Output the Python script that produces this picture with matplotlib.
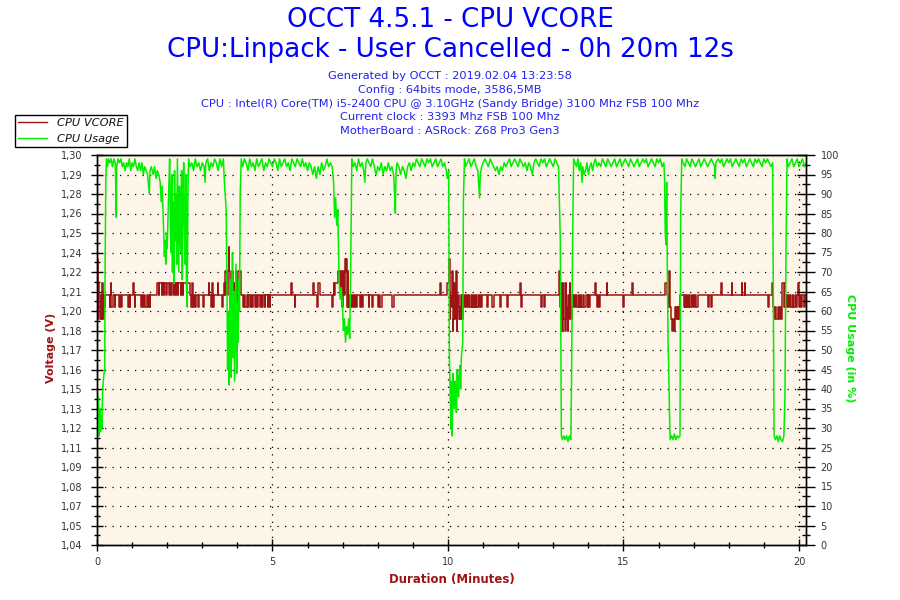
import matplotlib
matplotlib.use("Agg")
import matplotlib.pyplot as plt
from matplotlib.lines import Line2D
from matplotlib.ticker import MultipleLocator, FixedLocator

title_lines = ["OCCT 4.5.1 - CPU VCORE", "CPU:Linpack - User Cancelled - 0h 20m 12s"]
info_lines = [
    "Generated by OCCT : 2019.02.04 13:23:58",
    "Config : 64bits mode, 3586,5MB",
    "CPU : Intel(R) Core(TM) i5-2400 CPU @ 3.10GHz (Sandy Bridge) 3100 Mhz FSB 100 Mhz",
    "Current clock : 3393 Mhz FSB 100 Mhz",
    "MotherBoard : ASRock: Z68 Pro3 Gen3",
]

volt_ticklabels = ["1,04", "1,05", "1,07", "1,08", "1,09", "1,11", "1,12", "1,13", "1,15", "1,16", "1,17",
                   "1,18", "1,20", "1,21", "1,22", "1,24", "1,25", "1,26", "1,28", "1,29", "1,30"]
usage_ticks = list(range(0, 101, 5))

# CPU VCORE (V), step trace
vcore_min = [0.00, 0.02, 0.04, 0.06, 0.08, 0.10, 0.12, 0.14, 0.16, 0.18, 0.20, 0.22, 0.24,
             0.36, 0.38, 0.39, 0.41, 0.45, 0.50, 0.51, 0.62, 0.66, 0.67, 0.72, 0.88, 0.90, 0.93, 0.95,
             1.02, 1.04, 1.07, 1.09, 1.25, 1.28, 1.30, 1.33, 1.38, 1.42, 1.45, 1.47, 1.50, 1.52,
             1.70, 1.76, 1.78, 1.84, 1.86, 1.90, 1.92, 1.98, 2.00, 2.05, 2.07, 2.12, 2.14, 2.18, 2.20,
             2.24, 2.26, 2.30, 2.32, 2.38, 2.40, 2.44, 2.46,
             2.65, 2.68, 2.70, 2.73, 2.76, 2.78, 2.82, 2.88, 2.90, 3.03, 3.06, 3.18, 3.20, 3.26, 3.28,
             3.30, 3.32, 3.44, 3.46, 3.55, 3.58, 3.62, 3.64,
             3.66, 3.69, 3.72, 3.75, 3.77, 3.79, 3.81, 3.83, 3.85, 3.87, 3.89, 3.91, 3.93, 3.95, 3.97,
             3.99, 4.01, 4.09,
             4.16, 4.19, 4.22, 4.26, 4.29, 4.31, 4.36, 4.38, 4.42, 4.45, 4.50, 4.53, 4.56, 4.59, 4.63,
             4.66, 4.70, 4.74, 4.78, 4.80, 4.86, 4.88, 4.92, 4.94, 5.53, 5.56, 5.63, 5.65, 6.14, 6.17,
             6.28, 6.30, 6.34, 6.70, 6.72, 6.74, 6.76, 6.78,
             6.86, 6.92, 6.94, 6.98, 7.00, 7.04, 7.06, 7.08, 7.10, 7.12, 7.14, 7.16, 7.18, 7.20, 7.25,
             7.27, 7.30, 7.32, 7.36, 7.38, 7.41, 7.48, 7.52, 7.54, 7.58, 7.74, 7.76, 7.83, 7.85, 8.02,
             8.04, 8.07, 8.12, 8.40, 8.45, 9.76, 9.79, 9.96,
             10.03, 10.05, 10.07, 10.09, 10.11, 10.13, 10.15, 10.17, 10.19, 10.21, 10.23, 10.25, 10.27,
             10.29, 10.31, 10.33, 10.35, 10.37, 10.39, 10.41, 10.44,
             10.46, 10.49, 10.51, 10.55, 10.57, 10.61, 10.63, 10.67, 10.69, 10.73, 10.75, 10.79, 10.81,
             10.86, 10.88, 10.92, 10.94, 10.98, 11.10, 11.14, 11.26, 11.30, 11.48, 11.51, 11.67, 11.70,
             12.05, 12.07, 12.10, 12.66, 12.68, 12.74, 12.76,
             13.15, 13.17, 13.19, 13.21, 13.23, 13.25, 13.27, 13.29, 13.31, 13.33, 13.35, 13.37, 13.39,
             13.41, 13.43, 13.45, 13.47, 13.49, 13.51, 13.54,
             13.56, 13.60, 13.62, 13.66, 13.68, 13.72, 13.74, 13.78, 13.80, 13.84, 13.88, 13.92, 13.98,
             14.00, 14.03, 14.06, 14.19, 14.21, 14.25, 14.28, 14.30, 14.33, 14.52, 14.54, 15.00, 15.02,
             15.24, 15.26,
             16.17, 16.23, 16.27, 16.30, 16.32, 16.34, 16.38, 16.40, 16.44, 16.46, 16.48, 16.50, 16.52,
             16.54, 16.56, 16.58, 16.60, 16.62,
             16.71, 16.74, 16.76, 16.80, 16.82, 16.86, 16.88, 16.92, 16.95, 16.98, 17.02, 17.05, 17.08,
             17.12, 17.42, 17.45, 17.48, 17.52, 17.78, 17.80, 18.08, 18.10, 18.37, 18.39, 18.45, 18.47,
             19.13, 19.15,
             19.22, 19.27, 19.30, 19.32, 19.35, 19.40, 19.43, 19.47, 19.50, 19.53, 19.56, 19.59, 19.61,
             19.63, 19.66, 19.69, 19.72, 19.75, 19.78, 19.82, 19.84, 19.88, 19.92, 19.95, 19.98, 20.00,
             20.03, 20.06, 20.10, 20.13, 20.17, 20.20]
vcore_volt = [1.231, 1.191, 1.215, 1.199, 1.191, 1.207, 1.191, 1.215, 1.199, 1.191, 1.207, 1.199, 1.207,
              1.199, 1.207, 1.215, 1.199, 1.207, 1.199, 1.207, 1.199, 1.207, 1.199, 1.207, 1.199, 1.207, 1.199, 1.207,
              1.215, 1.207, 1.199, 1.207, 1.199, 1.207, 1.199, 1.207, 1.199, 1.207, 1.199, 1.207, 1.199, 1.207,
              1.215, 1.207, 1.215, 1.207, 1.215, 1.207, 1.215, 1.207, 1.215, 1.207, 1.215, 1.207, 1.215, 1.207, 1.215,
              1.207, 1.215, 1.207, 1.215, 1.207, 1.215, 1.207, 1.215,
              1.207, 1.199, 1.215, 1.199, 1.207, 1.199, 1.207, 1.199, 1.207, 1.199, 1.207, 1.215, 1.207, 1.199, 1.215,
              1.199, 1.207, 1.215, 1.207, 1.199, 1.207, 1.215, 1.207,
              1.223, 1.207, 1.223, 1.239, 1.223, 1.199, 1.215, 1.191, 1.223, 1.207, 1.191, 1.215, 1.199, 1.223, 1.191,
              1.207, 1.223, 1.207,
              1.199, 1.207, 1.199, 1.207, 1.199, 1.207, 1.199, 1.207, 1.199, 1.207, 1.199, 1.207, 1.199, 1.207, 1.199,
              1.207, 1.199, 1.207, 1.199, 1.207, 1.199, 1.207, 1.199, 1.207, 1.215, 1.207, 1.199, 1.207, 1.215, 1.207,
              1.199, 1.215, 1.207, 1.199, 1.207, 1.215, 1.207, 1.215,
              1.223, 1.207, 1.223, 1.199, 1.223, 1.207, 1.231, 1.223, 1.231, 1.199, 1.223, 1.199, 1.207, 1.199, 1.207,
              1.199, 1.207, 1.199, 1.207, 1.199, 1.207, 1.199, 1.207, 1.199, 1.207, 1.199, 1.207, 1.199, 1.207, 1.199,
              1.207, 1.199, 1.207, 1.199, 1.207, 1.215, 1.207, 1.215,
              1.231, 1.191, 1.207, 1.199, 1.223, 1.183, 1.191, 1.215, 1.191, 1.199, 1.223, 1.183, 1.199,
              1.207, 1.191, 1.199, 1.191, 1.207, 1.199, 1.191, 1.207,
              1.199, 1.207, 1.199, 1.207, 1.199, 1.207, 1.199, 1.207, 1.199, 1.207, 1.199, 1.207, 1.199,
              1.207, 1.199, 1.207, 1.199, 1.207, 1.199, 1.207, 1.199, 1.207, 1.199, 1.207, 1.199, 1.207,
              1.215, 1.199, 1.207, 1.199, 1.207, 1.199, 1.207,
              1.215, 1.223, 1.199, 1.191, 1.215, 1.183, 1.199, 1.215, 1.191, 1.183, 1.215, 1.191, 1.199,
              1.183, 1.207, 1.191, 1.215, 1.199, 1.191, 1.207,
              1.199, 1.207, 1.199, 1.207, 1.199, 1.207, 1.199, 1.207, 1.199, 1.207, 1.199, 1.207, 1.199,
              1.207, 1.199, 1.207, 1.215, 1.207, 1.199, 1.207, 1.199, 1.207, 1.215, 1.207, 1.199, 1.207,
              1.215, 1.207,
              1.215, 1.207, 1.199, 1.223, 1.199, 1.191, 1.183, 1.191, 1.183, 1.191, 1.199, 1.191, 1.199,
              1.191, 1.199, 1.191, 1.199, 1.207,
              1.199, 1.207, 1.199, 1.207, 1.199, 1.207, 1.199, 1.207, 1.199, 1.207, 1.199, 1.207, 1.199,
              1.207, 1.199, 1.207, 1.199, 1.207, 1.215, 1.207, 1.215, 1.207, 1.215, 1.207, 1.215, 1.207,
              1.199, 1.207,
              1.215, 1.199, 1.191, 1.199, 1.191, 1.199, 1.191, 1.199, 1.191, 1.215, 1.199, 1.215, 1.199,
              1.207, 1.199, 1.207, 1.199, 1.207, 1.199, 1.207, 1.199, 1.207, 1.199, 1.207, 1.215, 1.199,
              1.207, 1.199, 1.207, 1.199, 1.207, 1.207]

# CPU usage (%)
usage_min = [0.00, 0.02, 0.04, 0.06, 0.08, 0.10, 0.12, 0.14, 0.16, 0.18, 0.20, 0.22, 0.23, 0.25, 0.27, 0.30,
             0.33, 0.36, 0.40, 0.44, 0.48, 0.52, 0.54, 0.55, 0.56, 0.60, 0.64, 0.68, 0.72, 0.76, 0.80, 0.84,
             0.88, 0.92, 0.96, 1.00, 1.04, 1.08, 1.12, 1.16, 1.20, 1.24, 1.28, 1.32, 1.36, 1.40, 1.44, 1.47,
             1.49, 1.51, 1.55, 1.60, 1.64, 1.68, 1.72, 1.76, 1.80, 1.83, 1.85, 1.88, 1.90, 1.92, 1.94, 1.96,
             1.98, 2.00, 2.04, 2.07, 2.09, 2.11, 2.13, 2.15, 2.17, 2.19, 2.21, 2.23, 2.25, 2.27, 2.29, 2.31,
             2.33, 2.35, 2.37, 2.39, 2.41, 2.43, 2.45, 2.47, 2.49, 2.51, 2.53, 2.55, 2.57, 2.59, 2.61, 2.65,
             2.70, 2.75, 2.80, 2.85, 2.90, 2.95, 3.00, 3.05, 3.08, 3.10, 3.15, 3.20, 3.25, 3.30, 3.35, 3.40,
             3.45, 3.50, 3.55, 3.60, 3.63, 3.66, 3.68, 3.70, 3.72, 3.74, 3.76, 3.78, 3.80, 3.82, 3.84, 3.86,
             3.88, 3.90, 3.92, 3.94, 3.96, 3.98, 4.00, 4.02, 4.04, 4.06, 4.08, 4.11, 4.15, 4.20, 4.25, 4.30,
             4.35, 4.40, 4.45, 4.50, 4.55, 4.60, 4.65, 4.70, 4.75, 4.80, 4.85, 4.90, 4.95, 5.00, 5.05, 5.10,
             5.15, 5.20, 5.25, 5.30, 5.35, 5.40, 5.45, 5.50, 5.55, 5.60, 5.65, 5.70, 5.75, 5.80, 5.85, 5.90,
             5.95, 6.00, 6.05, 6.10, 6.15, 6.20, 6.25, 6.30, 6.35, 6.40, 6.45, 6.50, 6.55, 6.60, 6.65, 6.70,
             6.74, 6.77, 6.80, 6.83, 6.86, 6.90, 6.93, 6.96, 6.99, 7.02, 7.05, 7.08, 7.11, 7.14, 7.17, 7.20,
             7.23, 7.26, 7.30, 7.35, 7.40, 7.45, 7.50, 7.55, 7.60, 7.63, 7.66, 7.70, 7.75, 7.80, 7.85, 7.90,
             7.95, 8.00, 8.05, 8.10, 8.15, 8.20, 8.25, 8.30, 8.35, 8.40, 8.45, 8.48, 8.50, 8.52, 8.55, 8.60,
             8.65, 8.70, 8.75, 8.80, 8.85, 8.90, 8.95, 9.00, 9.05, 9.10, 9.15, 9.20, 9.25, 9.30, 9.35, 9.40,
             9.45, 9.50, 9.55, 9.60, 9.65, 9.70, 9.75, 9.80, 9.85, 9.90, 9.95, 9.98, 10.02, 10.04, 10.06,
             10.08, 10.10, 10.12, 10.14, 10.16, 10.18, 10.20, 10.22, 10.24, 10.26, 10.28, 10.30, 10.32,
             10.34, 10.36, 10.38, 10.40, 10.42, 10.44, 10.47, 10.50, 10.55, 10.60, 10.65, 10.70, 10.75,
             10.80, 10.85, 10.88, 10.90, 10.92, 10.96, 11.00, 11.05, 11.10, 11.15, 11.20, 11.25, 11.30,
             11.35, 11.40, 11.45, 11.50, 11.55, 11.60, 11.65, 11.70, 11.75, 11.80, 11.85, 11.90, 11.95,
             12.00, 12.05, 12.10, 12.15, 12.20, 12.25, 12.30, 12.35, 12.40, 12.45, 12.50, 12.55, 12.60,
             12.65, 12.70, 12.75, 12.80, 12.85, 12.90, 12.95, 13.00, 13.05, 13.10, 13.15, 13.17, 13.20,
             13.23, 13.26, 13.30, 13.34, 13.38, 13.42, 13.46, 13.50, 13.52, 13.55, 13.58, 13.62, 13.66,
             13.70, 13.74, 13.78, 13.82, 13.84, 13.88, 13.92, 13.96, 14.00, 14.04, 14.08, 14.12, 14.16,
             14.20, 14.25, 14.30, 14.35, 14.40, 14.45, 14.50, 14.55, 14.60, 14.65, 14.70, 14.75, 14.80,
             14.85, 14.90, 14.95, 15.00, 15.05, 15.10, 15.15, 15.20, 15.25, 15.30, 15.35, 15.40, 15.45,
             15.50, 15.55, 15.60, 15.65, 15.70, 15.75, 15.80, 15.85, 15.90, 15.95, 16.00, 16.05, 16.10,
             16.15, 16.17, 16.19, 16.21, 16.23, 16.25, 16.27, 16.29, 16.31, 16.33, 16.37, 16.41, 16.45,
             16.49, 16.53, 16.57, 16.61, 16.63, 16.66, 16.70, 16.75, 16.80, 16.85, 16.90, 16.95, 17.00,
             17.05, 17.10, 17.15, 17.20, 17.25, 17.30, 17.35, 17.40, 17.45, 17.50, 17.55, 17.60, 17.61,
             17.63, 17.70, 17.75, 17.80, 17.85, 17.90, 17.95, 18.00, 18.05, 18.10, 18.15, 18.20, 18.25,
             18.30, 18.35, 18.40, 18.45, 18.50, 18.55, 18.60, 18.65, 18.70, 18.75, 18.80, 18.85, 18.90,
             18.95, 19.00, 19.05, 19.10, 19.15, 19.20, 19.25, 19.27, 19.29, 19.33, 19.37, 19.41, 19.45,
             19.49, 19.53, 19.57, 19.60, 19.63, 19.66, 19.70, 19.75, 19.80, 19.85, 19.90, 19.95, 20.00,
             20.05, 20.10, 20.15, 20.19]
usage_pct = [41, 30, 38, 28, 35, 29, 33, 30, 40, 42, 44, 45, 70, 93, 99, 97,
             99, 98, 99, 97, 99, 98, 90, 84, 97, 99, 98, 99, 97, 98, 96, 98,
             97, 99, 96, 98, 97, 99, 97, 96, 98, 96, 98, 95, 97, 96, 95, 92,
             90, 96, 97, 95, 97, 94, 96, 95, 93, 88, 92, 86, 80, 74, 78, 72,
             80, 76, 90, 99, 85, 75, 95, 70, 88, 67, 96, 78, 90, 72, 99, 85,
             70, 92, 80, 75, 96, 68, 88, 98, 82, 72, 95, 66, 61, 90, 99, 97,
             98, 96, 99, 97, 98, 96, 98, 97, 93, 98, 99, 96, 98, 97, 99, 98,
             96, 99, 97, 99, 93, 89, 86, 70, 45, 60, 41, 52, 68, 43, 56, 75,
             48, 65, 42, 58, 72, 44, 62, 52, 68, 60, 90, 99, 97, 99, 98, 96,
             99, 97, 98, 96, 99, 97, 98, 99, 96, 98, 97, 99, 98, 97, 99, 98,
             96, 99, 97, 98, 99, 97, 98, 96, 99, 98, 97, 99, 98, 97, 99, 97,
             98, 96, 98, 97, 95, 97, 94, 97, 95, 98, 96, 97, 99, 97, 98, 97,
             93, 84, 89, 82, 86, 67, 63, 66, 62, 55, 58, 52, 56, 54, 58, 53,
             73, 99, 97, 98, 96, 99, 97, 98, 96, 93, 98, 99, 98, 97, 99, 97,
             95, 97, 96, 98, 95, 97, 96, 98, 96, 97, 95, 90, 85, 96, 98, 97,
             95, 97, 96, 94, 97, 98, 96, 98, 97, 99, 98, 97, 99, 98, 97, 99,
             98, 99, 97, 98, 99, 97, 98, 99, 97, 98, 96, 94, 96, 48, 40,
             30, 42, 28, 44, 38, 35, 42, 40, 34, 45, 42, 38, 44,
             46, 40, 48, 50, 52, 89, 99, 97, 98, 99, 97, 98, 99,
             97, 96, 92, 89, 95, 97, 98, 99, 98, 97, 99, 98, 97,
             96, 97, 95, 97, 96, 98, 97, 98, 99, 97, 98, 99, 98,
             97, 99, 98, 97, 98, 96, 98, 97, 95, 98, 99, 98, 97,
             99, 98, 99, 97, 98, 99, 98, 97, 99, 98, 97, 89, 78,
             28, 27, 28, 27, 28, 26.5, 28, 27, 42, 78, 99, 98, 97,
             99, 96, 98, 93, 97, 95, 96, 98, 95, 97, 98, 96, 98,
             99, 97, 98, 97, 99, 98, 97, 99, 98, 97, 98, 99, 97,
             98, 99, 97, 98, 99, 98, 97, 99, 98, 97, 98, 99, 97,
             98, 99, 98, 99, 97, 98, 99, 98, 97, 99, 98, 99, 97,
             98, 94, 80, 77, 93, 70, 52, 45, 34, 27, 28, 27, 28.5,
             27, 28, 27.5, 28, 85, 99, 98, 97, 99, 98, 97, 99, 98,
             97, 98, 99, 97, 98, 99, 98, 97, 98, 99, 98, 97, 94,
             98, 99, 98, 99, 97, 98, 99, 98, 99, 97, 98, 99, 98,
             97, 99, 98, 99, 97, 98, 99, 98, 97, 99, 98, 99, 98,
             97, 99, 98, 99, 98, 97, 98, 60, 28, 27, 28, 26.5, 28,
             27, 26.5, 28, 38, 75, 99, 97, 98, 99, 97, 98, 99, 97,
             98, 99, 97, 98]

red = "#9e1414"
green = "#00ee00"
blue = "#0000ff"
tick_col = "#333333"

fig = plt.figure(figsize=(9, 6), dpi=100)
ax = fig.add_axes([97 / 900, 1 - 545 / 600, 709 / 900, 390 / 600])
ax.set_facecolor("#fdf6e8")
ax2 = ax.twinx()
ax2.patch.set_visible(False)

ax.step(vcore_min, vcore_volt, where="post", color=red, lw=1.1)
ax2.plot(usage_min, usage_pct, color=green, lw=1.1)

ax.set_xlim(0, 20.2)
ax.set_ylim(1.04, 1.30)
ax2.set_ylim(0, 100)

volt_pos = [1.04 + 0.013 * i for i in range(len(volt_ticklabels))]
ax.yaxis.set_major_locator(FixedLocator(volt_pos))
ax.set_yticklabels(volt_ticklabels)
ax.yaxis.set_minor_locator(FixedLocator([p + 0.0065 for p in volt_pos[:-1]]))
ax.xaxis.set_major_locator(FixedLocator([0, 5, 10, 15, 20]))
ax.xaxis.set_minor_locator(MultipleLocator(1))
ax2.yaxis.set_major_locator(FixedLocator(usage_ticks))
ax2.yaxis.set_minor_locator(MultipleLocator(2.5))

ax.tick_params(axis="both", which="major", direction="inout", length=9, width=1,
               labelsize=7, labelcolor=tick_col, pad=4)
ax.tick_params(axis="both", which="minor", direction="inout", length=5, width=1)
ax.tick_params(axis="y", which="major", pad=6)
ax2.tick_params(axis="y", which="major", direction="inout", length=13, width=1,
                labelsize=7, labelcolor=tick_col, pad=4)
ax2.tick_params(axis="y", which="minor", direction="inout", length=6, width=1)

ax.grid(True, which="major", color="black", linestyle=(0, (1, 5)), lw=0.9)

for s in list(ax.spines.values()) + list(ax2.spines.values()):
    s.set_color("black")
    s.set_linewidth(1)

ax.set_xlabel("Duration (Minutes)", color=red, fontsize=8.5, fontweight="bold")
ax.xaxis.set_label_coords(0.5, -0.072)
ax.set_ylabel("Voltage (V)", color=red, fontsize=8, fontweight="bold")
ax.yaxis.set_label_coords(-0.058, 0.505)
ax2.set_ylabel("CPU Usage (in %)", color=green, fontsize=8, fontweight="bold", rotation=-90)
ax2.yaxis.set_label_coords(1.069, 0.505)

fig.text(0.5, 1 - 20 / 600, title_lines[0], ha="center", va="center", fontsize=18.8, color=blue)
fig.text(0.5, 1 - 50 / 600, title_lines[1], ha="center", va="center", fontsize=18.8, color=blue)
for i, line in enumerate(info_lines):
    fig.text(0.5, 1 - (76 + i * 13.8) / 600, line, ha="center", va="center", fontsize=8.2, color="#2222ee")

handles = [Line2D([], [], color=red, lw=1), Line2D([], [], color=green, lw=1)]
leg = fig.legend(handles, ["CPU VCORE", "CPU Usage"], loc="upper left",
                 bbox_to_anchor=(15 / 900, 1 - 115 / 600), fontsize=8.2, frameon=True,
                 fancybox=False, edgecolor="black", framealpha=1, handlelength=2.5,
                 handletextpad=0.9, labelspacing=0.45, borderpad=0.3, borderaxespad=0)
leg.get_frame().set_linewidth(1)
for t in leg.get_texts():
    t.set_fontstyle("italic")
    t.set_color("#111111")

fig.savefig("out.png", dpi=100)
